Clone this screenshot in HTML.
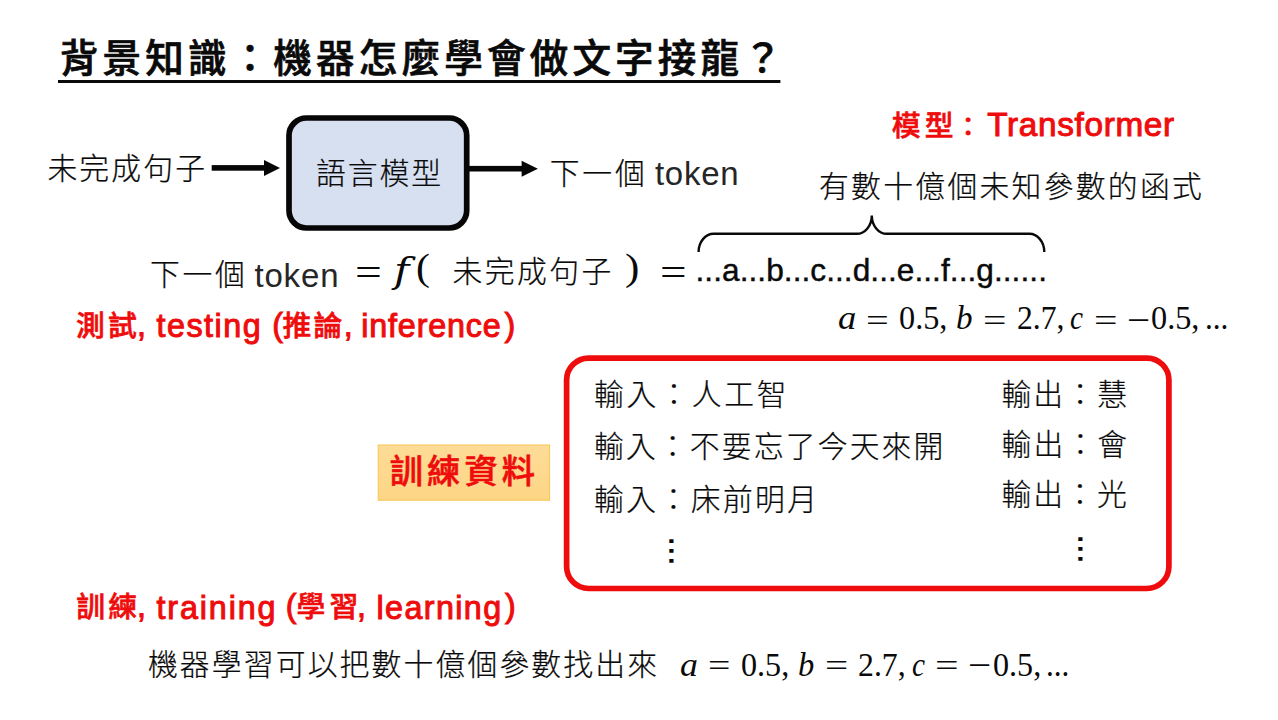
<!DOCTYPE html>
<html lang="zh-Hant">
<head>
<meta charset="utf-8">
<title>背景知識：機器怎麼學會做文字接龍？</title>
<style>
html,body{margin:0;padding:0;background:#fff;}
body{width:1278px;height:720px;position:relative;overflow:hidden;
  font-family:"Liberation Sans","Noto Sans CJK TC",sans-serif;color:#0a0a0a;}
.ln{position:absolute;white-space:nowrap;line-height:1;margin:0;padding:0;}
.ln span{display:inline-block;white-space:pre;}
.cj{font-family:"Liberation Sans","Noto Sans CJK TC",sans-serif;font-weight:300;-webkit-text-stroke:0.22px currentColor;}
.la{font-family:"Liberation Sans","Noto Sans CJK TC",sans-serif;font-weight:400;}
.b{font-weight:700;-webkit-text-stroke:0;}
.rb{font-weight:500;-webkit-text-stroke:0.6px currentColor;}
.sb{font-weight:400;-webkit-text-stroke:1.0px currentColor;}
.tb{font-weight:500;-webkit-text-stroke:0.7px currentColor;}
.red{color:#ee0c0c;}
.m{font-family:"Liberation Serif","Noto Serif CJK TC",serif;font-weight:400;}
.dj{font-family:"DejaVu Serif","Liberation Serif",serif;font-style:italic;font-weight:400;}
.dv{font-family:"DejaVu Sans","Liberation Sans",sans-serif;font-weight:400;}
.mi{font-family:"Liberation Serif","Noto Serif CJK TC",serif;font-style:italic;}
svg.bg{position:absolute;left:0;top:0;}
</style>
</head>
<body>
<svg class="bg" width="1278" height="720" viewBox="0 0 1278 720">
  <defs>
    <linearGradient id="lg" x1="0" y1="0" x2="0" y2="1">
      <stop offset="0" stop-color="#fedc97"/>
      <stop offset="1" stop-color="#fdd585"/>
    </linearGradient>
  </defs>
  <rect x="58" y="80" width="722.4" height="3" fill="#0a0a0a"/>
  <rect x="289" y="118" width="177.7" height="110" rx="17.5" ry="17.5" fill="#d7e0f0" stroke="#060606" stroke-width="5.7"/>
  <rect x="211.7" y="165.1" width="53.5" height="5.6" fill="#060606"/>
  <polygon points="264,160 280,168 264,176" fill="#060606"/>
  <rect x="469" y="165.9" width="53.8" height="5.6" fill="#060606"/>
  <polygon points="521.6,160.7 537.9,168.7 521.6,176.7" fill="#060606"/>
  <path d="M698.6,252 A15,18.2 0 0 1 713.6,233.8 L856.8,233.8 A15,18.4 0 0 0 871.8,215.4 A15,18.4 0 0 0 886.8,233.8 L1029.3,233.8 A15,18.2 0 0 1 1044.3,252" fill="none" stroke="#0a0a0a" stroke-width="2.4"/>
  <rect x="566.6" y="358.1" width="602.3" height="230.4" rx="22" ry="22" fill="#ffffff" stroke="#ee0c0c" stroke-width="5.7"/>
  <rect x="378.2" y="445" width="171.4" height="55.2" fill="url(#lg)" stroke="#f8c650" stroke-width="1"/>
</svg>
<div class="ln" id="title" style="left:59.77px;top:40.00px;"><span id="t1" class="cj tb" style="font-size:38.60px;letter-spacing:4.14px;">背景知識：機器怎麼學會做文字接龍？</span></div>
<div class="ln" id="in1" style="left:47.40px;top:153.99px;"><span id="in1s" class="cj" style="font-size:29.80px;letter-spacing:2.15px;">未完成句子</span></div>
<div class="ln" id="lm" style="left:316.08px;top:158.90px;"><span id="lms" class="cj" style="font-size:29.80px;letter-spacing:1.89px;">語言模型</span></div>
<div class="ln" id="out1" style="left:549.69px;top:155.74px;"><span id="o1a" class="cj" style="font-size:29.80px;letter-spacing:2.86px;">下一個 </span><span id="o1b" class="la" style="font-size:33.00px;letter-spacing:0.76px;margin-left:-3.90px;position:relative;top:1.65px;color:#262626;">token</span></div>
<div class="ln" id="tf" style="left:891.82px;top:107.74px;"><span id="tfa" class="cj rb red" style="font-size:28.80px;letter-spacing:4.17px;">模型</span><span id="tfc" class="cj rb red" style="font-size:25.80px;margin-left:-2.51px;">：</span><span id="tfb" class="la sb red" style="font-size:33.30px;letter-spacing:0.67px;margin-left:6.27px;position:relative;top:-0.04px;">Transformer</span></div>
<div class="ln" id="fn" style="left:819.00px;top:172.00px;"><span id="fns" class="cj" style="font-size:29.80px;letter-spacing:2.30px;">有數十億個未知參數的函式</span></div>
<div class="ln" id="eq" style="left:149.99px;top:253.00px;"><span id="e1" class="cj" style="font-size:29.80px;letter-spacing:2.73px;">下一個 </span><span id="e2" class="la" style="font-size:33.00px;letter-spacing:0.83px;margin-left:-4.15px;position:relative;top:1.70px;color:#262626;">token </span><span id="e3" class="m" style="font-size:37.50px;margin-left:5.46px;position:relative;top:-0.34px;transform:scaleX(1.2695);transform-origin:0 50%;">= </span><span id="e4" class="dj" style="font-size:35.00px;margin-left:9.06px;position:relative;top:-2.00px;transform:scaleX(1.1933);transform-origin:0 50%;">f</span><span id="e5" class="m" style="font-size:38.20px;margin-left:8.34px;position:relative;top:-4.75px;transform:scaleX(1.0950);transform-origin:0 50%;">( </span><span id="e6" class="cj" style="font-size:29.80px;letter-spacing:2.44px;margin-left:14.60px;position:relative;top:-2.79px;">未完成句子 </span><span id="e7" class="m" style="font-size:38.20px;margin-left:0.88px;position:relative;top:-4.57px;transform:scaleX(1.1318);transform-origin:0 50%;">) </span><span id="e8" class="m" style="font-size:37.50px;margin-left:12.31px;position:relative;top:-0.34px;transform:scaleX(1.2566);transform-origin:0 50%;">= </span><span id="e9" class="la" style="font-size:31.60px;letter-spacing:0.06px;margin-left:5.11px;position:relative;top:-3.94px;-webkit-text-stroke:0.45px currentColor;">...a...b...c...d...e...f...g......</span></div>
<div class="ln" id="p1" style="left:838.25px;top:302.34px;"><span id="pa1" class="mi" style="font-size:33.00px;transform:scaleX(1.1090);transform-origin:0 50%;">a </span><span id="pa2" class="m" style="font-size:32.00px;margin-left:2.86px;position:relative;top:1.67px;transform:scaleX(1.2620);transform-origin:0 50%;">= </span><span id="pa3" class="m" style="font-size:33.00px;margin-left:7.03px;transform:scaleX(0.9774);transform-origin:0 50%;">0.5, </span><span id="pa4" class="mi" style="font-size:33.00px;margin-left:-0.46px;transform:scaleX(1.0020);transform-origin:0 50%;">b </span><span id="pa5" class="m" style="font-size:32.00px;margin-left:1.93px;position:relative;top:1.67px;transform:scaleX(1.2977);transform-origin:0 50%;">= </span><span id="pa6" class="m" style="font-size:33.00px;margin-left:7.88px;transform:scaleX(0.9590);transform-origin:0 50%;">2.7, </span><span id="pa7" class="mi" style="font-size:33.00px;margin-left:-4.59px;transform:scaleX(0.8887);transform-origin:0 50%;">c </span><span id="pa8" class="m" style="font-size:32.00px;margin-left:1.02px;position:relative;top:1.67px;transform:scaleX(1.3026);transform-origin:0 50%;">= </span><span id="pa9a" class="m" style="font-size:33.00px;margin-left:6.95px;position:relative;top:1.31px;transform:scaleX(1.2452);transform-origin:0 50%;">−</span><span id="pa9" class="m" style="font-size:33.00px;margin-left:5.56px;transform:scaleX(0.9774);transform-origin:0 50%;">0.5, </span><span id="pa10" class="m" style="font-size:33.00px;margin-left:-3.60px;transform:scaleX(0.9457);transform-origin:0 50%;">...</span></div>
<div class="ln" id="test" style="left:75.96px;top:309.40px;"><span id="ta" class="cj rb red" style="font-size:28.80px;letter-spacing:3.31px;">測試</span><span id="tb" class="la sb red" style="font-size:32.30px;margin-left:-3.17px;">, </span><span id="tc" class="la sb red" style="font-size:32.30px;letter-spacing:1.50px;margin-left:1.53px;position:relative;top:1.00px;">testing </span><span id="td" class="la sb red" style="font-size:32.30px;margin-left:-0.28px;">(</span><span id="te" class="cj rb red" style="font-size:28.80px;letter-spacing:2.16px;margin-left:-0.55px;">推論</span><span id="tf_" class="la sb red" style="font-size:32.30px;margin-left:-0.67px;">, </span><span id="tg" class="la sb red" style="font-size:32.30px;letter-spacing:0.82px;margin-left:-0.53px;position:relative;top:1.00px;">inference</span><span id="th" class="la sb red" style="font-size:32.30px;margin-left:3.02px;">)</span></div>
<div class="ln" id="r1" style="left:593.93px;top:379.94px;"><span id="r1s" class="cj" style="font-size:29.80px;letter-spacing:2.78px;">輸入：人工智</span></div>
<div class="ln" id="r2" style="left:593.93px;top:432.21px;"><span id="r2s" class="cj" style="font-size:29.80px;letter-spacing:2.17px;">輸入：不要忘了今天來開</span></div>
<div class="ln" id="r3" style="left:593.98px;top:485.39px;"><span id="r3s" class="cj" style="font-size:29.80px;letter-spacing:2.43px;">輸入：床前明月</span></div>
<div class="ln" id="o1" style="left:1001.48px;top:380.06px;"><span id="q1s" class="cj" style="font-size:29.80px;letter-spacing:2.10px;">輸出：慧</span></div>
<div class="ln" id="o2" style="left:1001.48px;top:429.63px;"><span id="q2s" class="cj" style="font-size:29.80px;letter-spacing:2.16px;">輸出：會</span></div>
<div class="ln" id="o3" style="left:1001.46px;top:480.31px;"><span id="q3s" class="cj" style="font-size:29.80px;letter-spacing:2.02px;">輸出：光</span></div>
<div class="ln" id="d1" style="left:651.13px;top:536.41px;"><span id="d1s" class="dv" style="font-size:29.00px;transform:scaleX(1.4043);transform-origin:0 50%;">⋮</span></div>
<div class="ln" id="d2" style="left:1060.42px;top:533.76px;"><span id="d2s" class="dv" style="font-size:29.00px;transform:scaleX(1.4043);transform-origin:0 50%;">⋮</span></div>
<div class="ln" id="lab" style="left:389.65px;top:454.60px;"><span id="labs" class="cj rb red" style="font-size:33.20px;letter-spacing:4.21px;">訓練資料</span></div>
<div class="ln" id="train" style="left:76.15px;top:590.32px;"><span id="na" class="cj rb red" style="font-size:28.80px;letter-spacing:3.20px;">訓練</span><span id="nb" class="la sb red" style="font-size:32.30px;margin-left:-3.08px;">, </span><span id="nc" class="la sb red" style="font-size:32.30px;letter-spacing:1.87px;margin-left:1.50px;position:relative;top:1.36px;">training </span><span id="nd" class="la sb red" style="font-size:32.30px;margin-left:-2.42px;">(</span><span id="ne" class="cj rb red" style="font-size:28.80px;letter-spacing:4.17px;margin-left:-0.11px;">學習</span><span id="nf" class="la sb red" style="font-size:32.30px;margin-left:-5.45px;">, </span><span id="ng" class="la sb red" style="font-size:32.30px;letter-spacing:1.39px;margin-left:1.55px;position:relative;top:1.36px;">learning</span><span id="nh" class="la sb red" style="font-size:32.30px;margin-left:2.56px;">)</span></div>
<div class="ln" id="ml" style="left:147.88px;top:649.91px;"><span id="mls" class="cj" style="font-size:29.80px;letter-spacing:2.16px;">機器學習可以把數十億個參數找出來</span></div>
<div class="ln" id="p2" style="left:679.73px;top:648.70px;"><span id="pb1" class="mi" style="font-size:33.00px;transform:scaleX(1.0849);transform-origin:0 50%;">a </span><span id="pb2" class="m" style="font-size:32.00px;margin-left:3.12px;position:relative;top:0.76px;transform:scaleX(1.2410);transform-origin:0 50%;">= </span><span id="pb3" class="m" style="font-size:33.00px;margin-left:7.27px;transform:scaleX(0.9740);transform-origin:0 50%;">0.5, </span><span id="pb4" class="mi" style="font-size:33.00px;margin-left:-0.88px;transform:scaleX(0.9859);transform-origin:0 50%;">b </span><span id="pb5" class="m" style="font-size:32.00px;margin-left:2.30px;position:relative;top:0.76px;transform:scaleX(1.2847);transform-origin:0 50%;">= </span><span id="pb6" class="m" style="font-size:33.00px;margin-left:7.31px;transform:scaleX(0.9629);transform-origin:0 50%;">2.7, </span><span id="pb7" class="mi" style="font-size:33.00px;margin-left:-4.35px;transform:scaleX(0.8903);transform-origin:0 50%;">c </span><span id="pb8" class="m" style="font-size:32.00px;margin-left:0.65px;position:relative;top:0.76px;transform:scaleX(1.3042);transform-origin:0 50%;">= </span><span id="pb9a" class="m" style="font-size:33.00px;margin-left:7.11px;position:relative;top:0.68px;transform:scaleX(1.2456);transform-origin:0 50%;">−</span><span id="pb9" class="m" style="font-size:33.00px;margin-left:5.87px;transform:scaleX(0.9740);transform-origin:0 50%;">0.5, </span><span id="pb10" class="m" style="font-size:33.00px;margin-left:-4.02px;transform:scaleX(0.9431);transform-origin:0 50%;">...</span></div>
</body>
</html>
